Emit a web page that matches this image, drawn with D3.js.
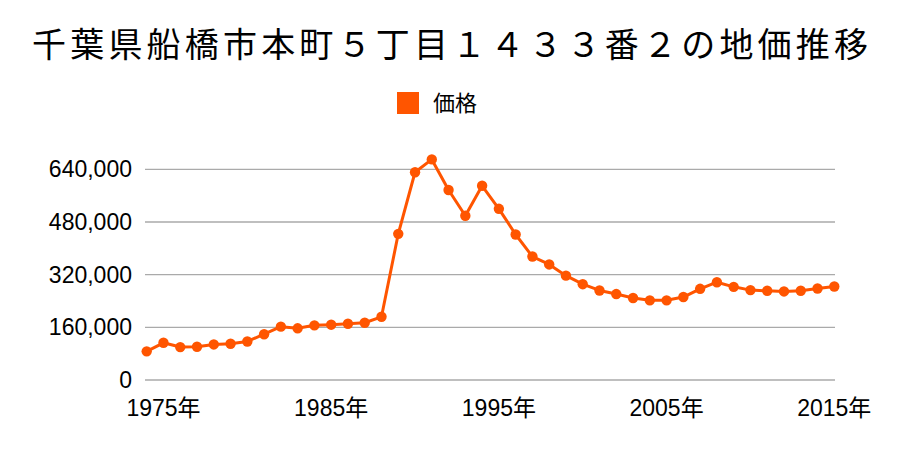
<!DOCTYPE html>
<html>
<head>
<meta charset="utf-8">
<script src="https://cdn.jsdelivr.net/npm/d3@7/dist/d3.min.js"></script>
<style>
  body { margin: 0; background: #fff; }
  svg { display: block; }
  text { font-family: "Noto Sans CJK JP", "Noto Sans", sans-serif; fill: #000; }
  .tick-label { font-family: "Liberation Sans", "Noto Sans CJK JP", sans-serif; }
</style>
</head>
<body>
<svg id="chart" width="900" height="450"></svg>
<script>
const title = "千葉県船橋市本町５丁目１４３３番２の地価推移";
const seriesName = "価格";
const years = d3.range(1974, 2016);
const prices = [
  87000, 113000, 100000, 101000, 108000, 110000, 117000, 139000, 162000, 157000,
  166000, 168000, 171000, 174000, 192000, 444000, 631000, 670000, 577000, 499000,
  590000, 520000, 442000, 375000, 351000, 317000, 291000, 272000, 261000, 249000,
  242000, 242000, 252000, 277000, 297000, 283000, 273000, 271000, 269000, 271000,
  278000, 284000
];
const yTicks = [0, 160000, 320000, 480000, 640000];
const xTickYears = [1975, 1985, 1995, 2005, 2015];
const color = "#ff5500";

const svg = d3.select("#chart");
const x = d3.scaleLinear().domain([1974, 2015]).range([146.7, 834.3]);
const y = d3.scaleLinear().domain([0, 640000]).range([380, 169.3]);

// title
svg.append("text")
  .attr("x", 450).attr("y", 57)
  .attr("text-anchor", "middle")
  .style("font-size", "34px")
  .attr("textLength", 836)
  .attr("lengthAdjust", "spacing")
  .text(title);

// legend
svg.append("rect").attr("x", 397).attr("y", 92).attr("width", 22).attr("height", 22).attr("fill", color);
svg.append("text").attr("x", 433).attr("y", 111).style("font-size", "22px").text(seriesName);

// gridlines
svg.append("g").selectAll("line").data(yTicks).join("line")
  .attr("x1", 145).attr("x2", 835)
  .attr("y1", d => y(d)).attr("y2", d => y(d))
  .attr("stroke", "#aaaaaa").attr("stroke-width", 1.3);

// y labels
svg.append("g").selectAll("text").data(yTicks).join("text")
  .attr("class", "tick-label")
  .attr("x", 132).attr("y", d => y(d) + 8)
  .attr("text-anchor", "end")
  .style("font-size", "23px")
  .text(d => d3.format(",")(d));

// x labels
svg.append("g").selectAll("text").data(xTickYears).join("text")
  .attr("class", "tick-label")
  .attr("x", d => x(d)).attr("y", 416)
  .attr("text-anchor", "middle")
  .style("font-size", "23px")
  .text(d => d + "年");

// line
const data = years.map((yr, i) => ({year: yr, value: prices[i]}));
svg.append("path").datum(data)
  .attr("fill", "none").attr("stroke", color).attr("stroke-width", 3)
  .attr("stroke-linejoin", "round")
  .attr("d", d3.line().x(d => x(d.year)).y(d => y(d.value)));

svg.append("g").selectAll("circle").data(data).join("circle")
  .attr("cx", d => x(d.year)).attr("cy", d => y(d.value))
  .attr("r", 5.2).attr("fill", color);
</script>
</body>
</html>
